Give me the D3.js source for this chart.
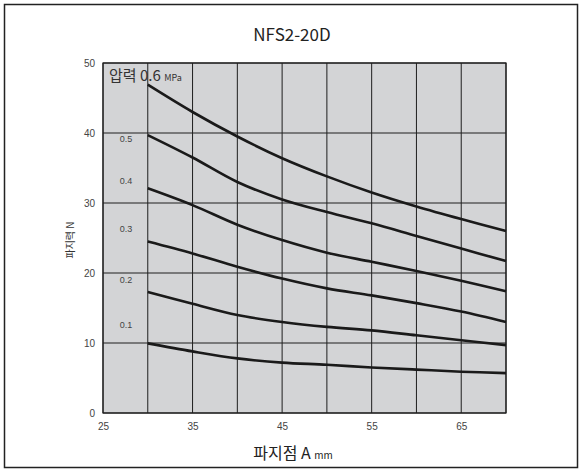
<!DOCTYPE html>
<html><head><meta charset="utf-8">
<script src="https://cdn.jsdelivr.net/npm/d3@7"></script>
<style>body{margin:0;background:#fff}svg{display:block}</style>
</head><body>
<svg id="c" width="582" height="471"></svg>
<script>
const xPoints = [30, 35, 40, 45, 50, 55, 60, 65, 70];
const pressures = ["0.6", "0.5", "0.4", "0.3", "0.2", "0.1"];
const s06 = [46.9, 43.0, 39.5, 36.4, 33.8, 31.5, 29.5, 27.7, 26.0];
const s05 = [39.7, 36.5, 33.0, 30.5, 28.7, 27.1, 25.3, 23.5, 21.7];
const s04 = [32.1, 29.7, 26.9, 24.7, 22.9, 21.6, 20.3, 18.9, 17.4];
const s03 = [24.5, 22.8, 20.9, 19.2, 17.8, 16.8, 15.7, 14.5, 13.0];
const s02 = [17.3, 15.6, 14.0, 13.0, 12.3, 11.8, 11.1, 10.4, 9.7];
const s01 = [9.95, 8.8, 7.8, 7.2, 6.9, 6.5, 6.2, 5.9, 5.7];
const series = [s06, s05, s04, s03, s02, s01];
const labelY = [46.5, 39.1, 33.1, 26.3, 19.0, 12.6];
const xTickValues = [25, 35, 45, 55, 65];
const xGridValues = [25, 30, 35, 40, 45, 50, 55, 60, 65, 70];
const yTickValues = [0, 10, 20, 30, 40, 50];

const svg = d3.select("#c");
const m = {l: 103, r: 506, t: 63, b: 413};
const x = d3.scaleLinear().domain([25, 70]).range([m.l, m.r]);
const y = d3.scaleLinear().domain([0, 50]).range([m.b, m.t]);
const font = "'Noto Sans CJK KR', 'Liberation Sans', sans-serif";
const font2 = "'Liberation Sans', 'Noto Sans CJK KR', sans-serif";

// outer frame
svg.append("rect").attr("x", 4.5).attr("y", 4.5).attr("width", 573).attr("height", 463)
  .attr("fill", "none").attr("stroke", "#222").attr("stroke-width", 1.5);

// plot bg
svg.append("rect").attr("x", m.l).attr("y", m.t).attr("width", m.r - m.l).attr("height", m.b - m.t)
  .attr("fill", "#d3d4d6");

// grid
svg.append("g").selectAll("line").data(xGridValues).join("line")
  .attr("x1", d => x(d)).attr("x2", d => x(d)).attr("y1", m.t).attr("y2", m.b)
  .attr("stroke", "#1e1e1e").attr("stroke-width", 1);
svg.append("g").selectAll("line").data(yTickValues).join("line")
  .attr("x1", m.l).attr("x2", m.r).attr("y1", d => y(d)).attr("y2", d => y(d))
  .attr("stroke", "#1e1e1e").attr("stroke-width", 1);
svg.append("rect").attr("x", m.l).attr("y", m.t).attr("width", m.r - m.l).attr("height", m.b - m.t)
  .attr("fill", "none").attr("stroke", "#1e1e1e").attr("stroke-width", 1.2);

// axes labels via d3 axis
const xAxis = svg.append("g").attr("transform", `translate(0,${m.b})`)
  .call(d3.axisBottom(x).tickValues(xTickValues).tickSize(0).tickPadding(10));
xAxis.select(".domain").remove();
xAxis.selectAll("text").attr("font-family", font2).attr("font-size", 10).attr("fill", "#444");

const yAxis = svg.append("g").attr("transform", `translate(${m.l},0)`)
  .call(d3.axisLeft(y).tickValues(yTickValues).tickSize(0).tickPadding(8));
yAxis.select(".domain").remove();
yAxis.selectAll("text").attr("font-family", font2).attr("font-size", 10).attr("fill", "#444");

// curves
const line = d3.line().x((d, i) => x(xPoints[i])).y(d => y(d)).curve(d3.curveCatmullRom.alpha(0.5));
svg.append("g").selectAll("path").data(series).join("path")
  .attr("d", d => line(d)).attr("fill", "none").attr("stroke", "#1a1a1a").attr("stroke-width", 2.6);

// curve labels
svg.append("g").selectAll("text").data(pressures.slice(1)).join("text")
  .attr("x", 126).attr("y", (d, i) => y(labelY[i + 1]) + 3)
  .attr("text-anchor", "middle").attr("font-family", font2).attr("font-size", 9).attr("fill", "#444")
  .text(d => d);

// pressure label
const pl = svg.append("text").attr("x", 109).attr("y", 81).attr("font-family", font)
  .attr("font-size", 15).attr("fill", "#333");
pl.append("tspan").text("압력 " + pressures[0] + " ");
pl.append("tspan").attr("font-size", 9).text("MPa");

// title
svg.append("text").attr("x", 292).attr("y", 41).attr("text-anchor", "middle")
  .attr("font-family", font).attr("font-size", 17).attr("fill", "#222").text("NFS2-20D");

// x label
const xl = svg.append("text").attr("x", 293).attr("y", 459).attr("text-anchor", "middle")
  .attr("font-family", font).attr("font-size", 16).attr("fill", "#222");
xl.append("tspan").text("파지점 A ");
xl.append("tspan").attr("font-size", 10).text("mm");

// y label
svg.append("text").attr("transform", "translate(74,240) rotate(-90)").attr("text-anchor", "middle")
  .attr("font-family", font).attr("font-size", 10).attr("fill", "#333").text("파지력 N");
</script>
</body></html>
